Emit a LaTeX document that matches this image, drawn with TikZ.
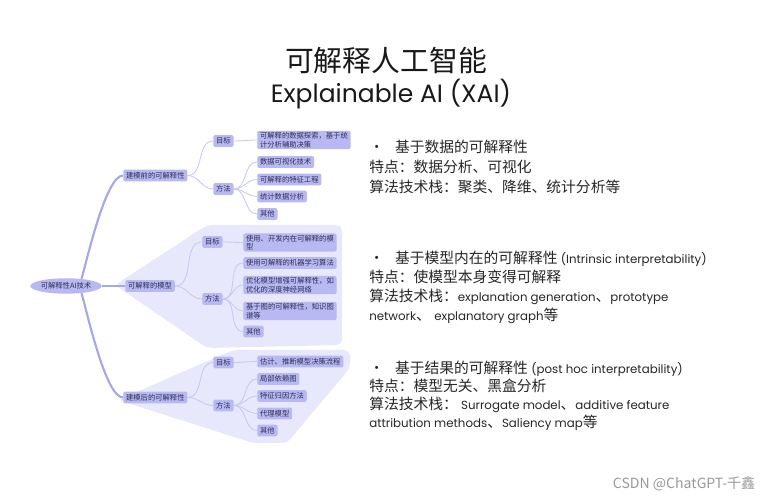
\documentclass[tikz,border=0pt]{standalone}
\usepackage{fontspec}
\setmainfont{Noto Sans CJK SC}
\newfontfamily\lat{Poppins}
\usetikzlibrary{shapes.geometric}
\definecolor{mmbox}{HTML}{B8B8F2}
\definecolor{mmtext}{HTML}{2E2E55}
\definecolor{mmline}{HTML}{C8C8F0}
\definecolor{mmtrunk}{HTML}{A6A6E8}
\definecolor{mmzone}{HTML}{E8E8FC}
\newcommand{\en}[1]{{\lat\fontsize{8.4}{14}\selectfont #1}}
\begin{document}
\begin{tikzpicture}[
    x=0.025cm, y=-0.025cm,
    box/.style={fill=mmbox, rounded corners=1.5pt, text=mmtext, font=\fontsize{5.2}{6.2}\selectfont,
                inner xsep=2pt, inner ysep=1pt, minimum height=8.5pt, anchor=west, align=left},
    root/.style={ellipse, fill=mmbox, text=mmtext, font=\fontsize{5.2}{6.2}\selectfont,
                 minimum width=50pt, minimum height=11pt, inner sep=0pt},
    trunk/.style={draw=mmtrunk, line width=1.5pt},
    twig/.style={draw=mmline, line width=0.6pt},
    info/.style={anchor=north west, align=left, font=\fontsize{10.5}{14}\selectfont, text=black!85, inner sep=0pt},
  ]
    \useasboundingbox (0,0) rectangle (764,498);

    % title
    \node[font=\fontsize{20.5}{24}\selectfont, text=black!90] (title) at (386,61) {可解释人工智能};
    \node[font=\lat\fontsize{17.8}{20}\selectfont, text=black!90] (subtitle) at (391,94) {Explainable AI (XAI)};

    % shaded zones behind the lower groups
    \fill[mmzone, rounded corners=4pt] (115,285) -- (207,225) -- (342,225) -- (342,345) -- (207,348) -- cycle;
    \fill[mmzone, rounded corners=4pt] (118,400) -- (233,350) -- (350,350) -- (350,368) -- (287,443) -- (253,443) -- cycle;

    % mind map
    \node[root] (root) at (66,286) {可解释性AI技术};
    \node[box] (pre)  at (123,175.5) {建模前的可解释性};
    \node[box] (intr) at (125,286)   {可解释的模型};
    \node[box] (post) at (123,397.5) {建模后的可解释性};

    \node[box] (g1goal) at (213,141) {目标};
    \node[box] (g1meth) at (213,189) {方法};
    \node[box] (g1a) at (257,140)   {可解释的数据探索，基于统\\计分析辅助决策};
    \node[box] (g1b) at (257,162)   {数据可视化技术};
    \node[box] (g1c) at (257,179.5) {可解释的特征工程};
    \node[box] (g1d) at (257,196.5) {统计数据分析};
    \node[box] (g1e) at (257,214)   {其他};

    \node[box] (g2goal) at (202,242) {目标};
    \node[box] (g2meth) at (202,299) {方法};
    \node[box] (g2a) at (243,242.5) {使用、开发内在可解释的模\\型};
    \node[box] (g2b) at (243,263)   {使用可解释的机器学习算法};
    \node[box] (g2c) at (243,285)   {优化模型增强可解释性，如\\优化的深度神经网络};
    \node[box] (g2d) at (243,311)   {基于图的可解释性，知识图\\谱等};
    \node[box] (g2e) at (243,331.5) {其他};

    \node[box] (g3goal) at (213,362.5) {目标};
    \node[box] (g3meth) at (213,405.5) {方法};
    \node[box] (g3a) at (257,361.5) {估计、推断模型决策流程};
    \node[box] (g3b) at (257,379)   {局部依赖图};
    \node[box] (g3c) at (257,396)   {特征归因方法};
    \node[box] (g3d) at (257,413.5) {代理模型};
    \node[box] (g3e) at (257,430.5) {其他};

    \draw[trunk] (root.25) to[out=73,in=180,looseness=0.4] (pre.west);
    \draw[trunk] (root.east) -- (intr.west);
    \draw[trunk] (root.-25) to[out=-73,in=180,looseness=0.4] (post.west);

    \foreach \a/\b in {pre/g1goal, pre/g1meth, g1goal/g1a, g1meth/g1b, g1meth/g1c, g1meth/g1d, g1meth/g1e,
                       intr/g2goal, intr/g2meth, g2goal/g2a, g2meth/g2b, g2meth/g2c, g2meth/g2d, g2meth/g2e,
                       post/g3goal, post/g3meth, g3goal/g3a, g3meth/g3b, g3meth/g3c, g3meth/g3d, g3meth/g3e}
      \draw[twig] (\a.east) to[out=0,in=180] (\b.west);

    % notes on the right
    \node[info] (info1) at (369,140) {•\hspace{0.75em}基于数据的可解释性\\特点：数据分析、可视化\\算法技术栈：聚类、降维、统计分析等};
    \node[info, font=\fontsize{10.5}{13.5}\selectfont] (info2) at (369,251) {•\hspace{0.75em}基于模型内在的可解释性 \en{(Intrinsic interpretability)}\\特点：使模型本身变得可解释\\算法技术栈：\en{explanation generation}、\en{prototype}\\\en{network}、 \en{explanatory graph}等};
    \node[info, font=\fontsize{10.5}{12.8}\selectfont] (info3) at (369,361) {•\hspace{0.75em}基于结果的可解释性 \en{(post hoc interpretability)}\\特点：模型无关、黑盒分析\\算法技术栈： \en{Surrogate model}、\en{additive feature}\\\en{attribution methods}、\en{Saliency map}等};

    \node[anchor=west, font=\fontsize{10}{11}\selectfont, text=black!40] (mark) at (608,484) {CSDN @ChatGPT-千鑫};
\end{tikzpicture}
\end{document}
